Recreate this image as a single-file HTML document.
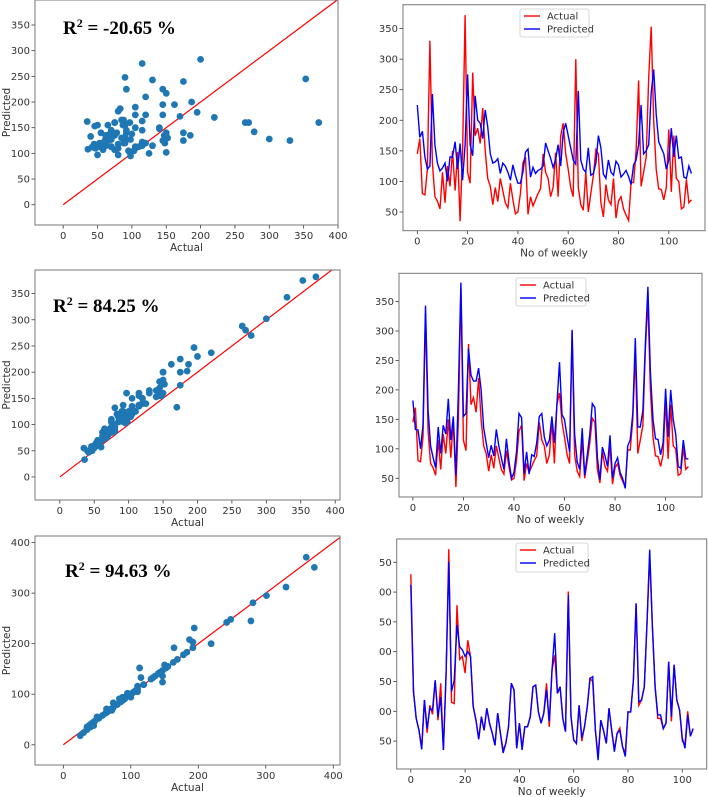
<!DOCTYPE html>
<html><head><meta charset="utf-8"><style>
html,body{margin:0;padding:0;background:#fff;}
svg{display:block;font-family:"DejaVu Sans","Liberation Sans",sans-serif;}
</style></head><body>
<svg id="fig" width="708" height="797" viewBox="0 0 708 797" xmlns="http://www.w3.org/2000/svg">
<defs><clipPath id="cutM"><rect x="376" y="265" width="332" height="265"/></clipPath>
<clipPath id="cutB"><rect x="378" y="530" width="330" height="267"/></clipPath></defs>
</svg>
<script>
const weekActual = [145,170,80,78,120,330,130,75,68,55,115,65,125,92,150,85,148,35,150,372,115,97,278,175,187,162,220,150,105,92,62,90,67,105,85,65,57,97,70,47,50,80,130,140,46,75,60,70,80,88,145,115,105,75,90,147,75,175,195,145,120,90,75,300,90,62,53,115,50,80,110,152,145,65,42,95,70,62,105,40,68,75,55,45,36,98,98,150,265,92,115,140,270,353,200,120,88,87,70,90,185,83,175,105,100,55,58,103,65,70];
const predTop = [225,172,182,140,120,125,243,160,130,117,122,130,100,140,140,165,120,162,102,160,275,160,142,240,200,195,170,217,190,145,130,132,137,113,130,125,115,102,127,110,97,97,115,148,153,107,123,113,118,120,125,163,150,138,123,135,160,125,180,195,175,155,135,128,248,135,120,115,155,110,113,130,175,155,112,105,135,115,110,133,127,107,112,118,108,95,127,135,160,225,145,150,160,245,283,210,165,155,145,120,135,187,140,175,138,140,107,105,125,113];
const predMid = [182,133,132,100,140,343,165,105,85,68,137,92,140,125,185,115,155,55,200,382,155,160,270,225,215,215,237,200,135,110,85,106,88,133,105,85,65,117,80,50,60,95,160,153,58,95,57,90,87,110,155,160,120,105,115,155,110,175,247,158,150,120,95,302,125,78,65,135,55,90,125,177,170,85,47,103,88,70,123,50,75,85,60,50,33,105,115,160,288,137,137,165,280,375,230,150,117,116,90,110,202,120,200,150,125,70,67,115,83,83];
const actBot = [330,133,88,68,40,119,64,110,95,152,85,147,35,163,372,115,113,278,187,192,164,219,192,108,85,53,91,68,105,80,63,43,97,63,35,46,74,147,136,38,80,40,74,74,91,141,144,99,80,97,147,74,169,194,130,141,88,66,301,91,52,46,110,50,74,108,155,150,68,25,85,68,46,105,68,36,63,72,41,30,99,99,152,281,110,119,141,248,360,242,141,88,88,71,80,183,83,178,119,102,50,45,100,58,71];
const predBot = [312,133,88,68,36,119,71,105,102,152,91,124,35,163,351,133,152,245,208,203,192,200,192,108,85,53,91,68,105,80,63,43,97,63,30,46,74,147,136,38,80,35,74,74,91,141,144,99,80,97,136,83,169,231,130,141,88,66,295,91,52,46,110,55,74,108,155,158,68,18,85,68,46,105,68,32,63,68,41,24,99,99,152,281,116,119,141,248,371,242,141,94,94,71,80,183,91,178,119,102,55,38,94,58,71];
const scatterXTicksA = [0,50,100,150,200,250,300,350,400];
const scatterYTicksA = [0,50,100,150,200,250,300,350];
const scatterXTicksB = [0,100,200,300,400];
const scatterYTicksB = [0,100,200,300,400];
const weekXTicks = [0,20,40,60,80,100];
const weekYTicks = [50,100,150,200,250,300,350];
const r2Labels = ["-20.65 %","84.25 %","94.63 %"];

const NS="http://www.w3.org/2000/svg";
const svg=document.getElementById('fig');
function mk(tag,attrs,parent){const e=document.createElementNS(NS,tag);for(const k in attrs)e.setAttribute(k,attrs[k]);(parent||svg).appendChild(e);return e;}

function axes(p){
  const g=mk('g',{});
  
  
  const sx=v=>p.x0+(v-p.xmin)/(p.xmax-p.xmin)*(p.x1-p.x0);
  const sy=v=>p.y1-(v-p.ymin)/(p.ymax-p.ymin)*(p.y1-p.y0);
  const cid='c'+p.name;
  const cp=mk('clipPath',{id:cid},g);mk('rect',{x:p.x0,y:p.y0,width:p.x1-p.x0,height:p.y1-p.y0},cp);
  const tg=mk('g',p.clipLabels?{'clip-path':'url(#'+p.clipLabels+')'}:{},g);
  p.xt.forEach(v=>{const x=sx(v);
    mk('line',{x1:x,x2:x,y1:p.y1,y2:p.y1+3.5,stroke:'#333','stroke-width':0.8},g);
    const t=mk('text',{x:x,y:p.y1+14,'font-size':10,fill:'#333','text-anchor':'middle'},g);t.textContent=v;
    
    });
  p.yt.forEach(v=>{const y=sy(v);
    mk('line',{x1:p.x0-3.5,x2:p.x0,y1:y,y2:y,stroke:'#333','stroke-width':0.8},g);
    const t=mk('text',{x:p.x0-5,y:y+3.5,'font-size':10,fill:'#333','text-anchor':'end'},tg);t.textContent=v;
    
    });
  const plot=mk('g',{'clip-path':'url(#'+cid+')'},g);
  mk('rect',{x:p.x0,y:p.y0,width:p.x1-p.x0,height:p.y1-p.y0,fill:'none',stroke:'#777','stroke-width':1},g);
  const xl=mk('text',{x:(p.x0+p.x1)/2,y:p.y1+26,'font-size':10.5,fill:'#333','text-anchor':'middle'},g);xl.textContent=p.xlabel;
  
  
  if(p.ylabel){const yl=mk('text',{x:0,y:0,'font-size':10.5,fill:'#333','text-anchor':'middle',transform:`translate(10,${(p.y0+p.y1)/2}) rotate(-90)`},g);yl.textContent=p.ylabel;
    
    }
  return {g,plot,sx,sy};
}

function scatter(p,xs,ys,r2,tx,ty){
  const a=axes(p);
  const lm=Math.min(p.xmax,p.ymax)+20;
  const ln=mk('line',{x1:a.sx(0),y1:a.sy(0),x2:a.sx(lm),y2:a.sy(lm),stroke:'#ff0000','stroke-width':1.2},a.plot);
  
  
  xs.forEach((v,i)=>{const c=mk('circle',{cx:a.sx(v),cy:a.sy(ys[i]),r:3.4,fill:'#1f77b4'},a.plot);
    
    });
  const t=mk('text',{x:tx,y:ty,'font-size':19,'font-weight':'bold',fill:'#000','font-family':'"Liberation Serif",serif'},a.g);
  t.innerHTML='R<tspan font-size="12" dy="-7">2</tspan><tspan dy="7"> = '+r2+'</tspan>';
  
  
}

function series(p,act,pred,lg){
  const a=axes(p);
  const path=(arr)=>arr.map((v,i)=>(i?'L':'M')+a.sx(i).toFixed(1)+' '+a.sy(v).toFixed(1)).join(' ');
  const r=mk('path',{d:path(act),fill:'none',stroke:'#ff0000','stroke-width':1.4},a.plot);
  
  
  const b=mk('path',{d:path(pred),fill:'none',stroke:'#0000ff','stroke-width':1.4},a.plot);
  
  
  const L=mk('g',{},a.g);
  
  
  mk('rect',{x:lg[0],y:lg[1],width:lg[2],height:lg[3],fill:'#fff',stroke:'#ccc','stroke-width':0.8,rx:2},L);
  [['Actual','#ff0000'],['Predicted','#0000ff']].forEach((e,i)=>{
    const y=lg[1]+7+i*13;
    mk('line',{x1:lg[0]+4,x2:lg[0]+20,y1:y,y2:y,stroke:e[1],'stroke-width':1.4},L);
    const t=mk('text',{x:lg[0]+27,y:y+3.5,'font-size':10,fill:'#333'},L);t.textContent=e[0];
    
    });
}

scatter({name:'scatter-model-1',x0:35,x1:338,y0:0,y1:225,xmin:-41,xmax:400,ymin:-39.5,ymax:398.7,xt:scatterXTicksA,yt:scatterYTicksA,xlabel:'Actual',ylabel:'Predicted'},weekActual,predTop,r2Labels[0],63,34);
scatter({name:'scatter-model-2',x0:35,x1:340,y0:270,y1:500,xmin:-36,xmax:407,ymin:-44,ymax:395,xt:scatterXTicksA,yt:scatterYTicksA,xlabel:'Actual',ylabel:'Predicted'},weekActual,predMid,r2Labels[1],53,312);
scatter({name:'scatter-model-3',x0:35,x1:340,y0:536,y1:765,xmin:-42,xmax:410,ymin:-40,ymax:413,xt:scatterXTicksB,yt:scatterYTicksB,xlabel:'Actual',ylabel:'Predicted'},actBot,predBot,r2Labels[2],65,577);
series({name:'weekly-model-1',x0:403,x1:705,y0:4.7,y1:230.7,xmin:-5.7,xmax:114.4,ymin:19.4,ymax:389,xt:weekXTicks,yt:weekYTicks,xlabel:'No of weekly'},weekActual,predTop,[520,9,69,28]);
series({name:'weekly-model-2',x0:399,x1:702,y0:273.3,y1:497,xmin:-5.5,xmax:114.4,ymin:18.2,ymax:398,xt:weekXTicks,yt:weekYTicks,xlabel:'No of weekly',clipLabels:'cutM'},weekActual,predMid,[516,278,70,28]);
series({name:'weekly-model-3',x0:396.7,x1:706.7,y0:539,y1:769,xmin:-5.2,xmax:109,ymin:3.2,ymax:389,xt:weekXTicks,yt:weekYTicks,xlabel:'No of weekly',clipLabels:'cutB'},actBot,predBot,[516,543,72,29]);
</script>
</body></html>
